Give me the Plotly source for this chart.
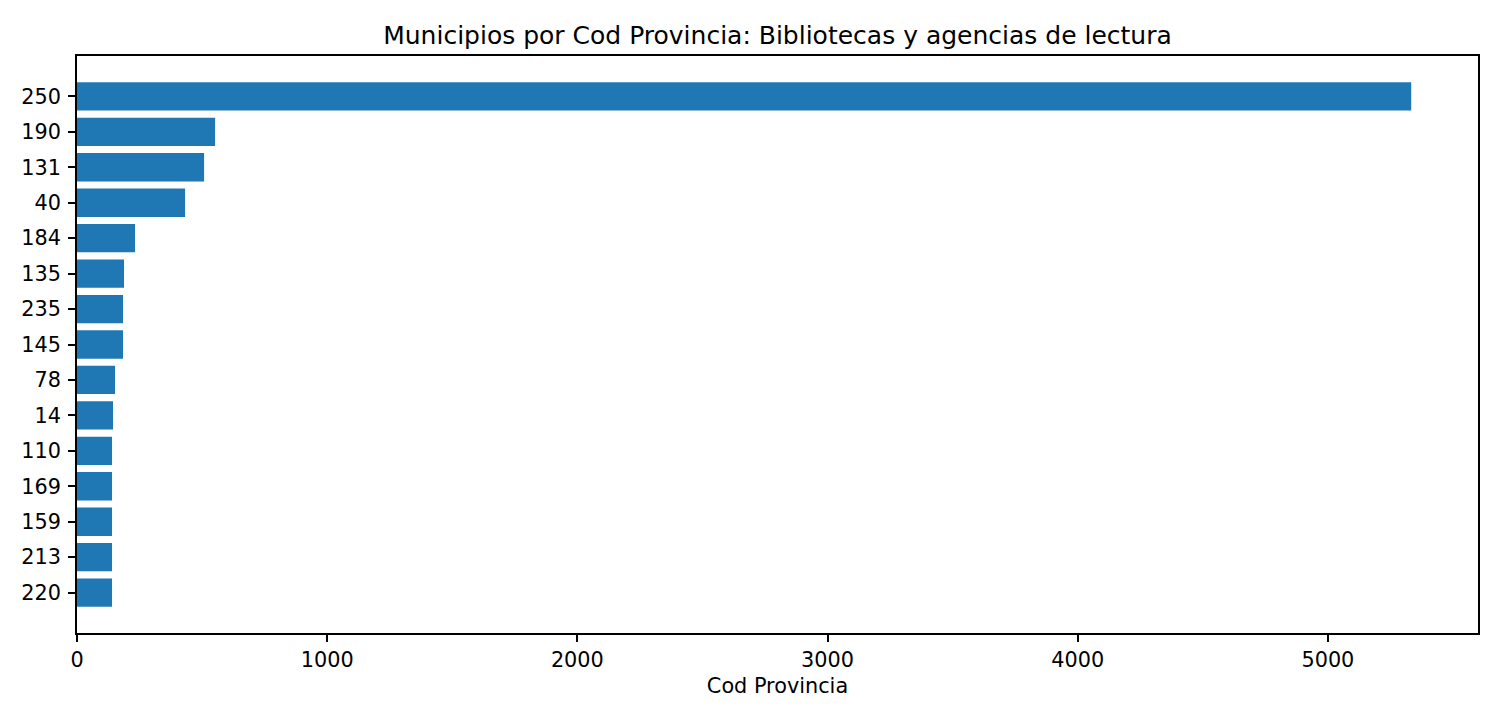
import plotly.graph_objects as go

# provincias (top to bottom) and their counts
cod_provincia = ["250", "190", "131", "40", "184", "135", "235", "145",
                 "78", "14", "110", "169", "159", "213", "220"]
municipios = [5333, 552, 508, 432, 232, 188, 184, 184,
              152, 144, 140, 140, 140, 140, 140]

pos = list(range(len(cod_provincia)))

# page body adds 8px margin, so the figure is made 8px smaller
W, H = 1492, 712

fig = go.Figure(go.Bar(
    x=municipios,
    y=pos,
    orientation="h",
    width=0.8,
    marker=dict(color="#1f77b4", line=dict(width=0)),
))

fig.update_layout(
    width=W,
    height=H,
    margin=dict(l=69, r=22, t=48, b=87),
    paper_bgcolor="white",
    plot_bgcolor="white",
    font=dict(family="DejaVu Sans", size=20.8, color="black"),
    showlegend=False,
    title=dict(
        text="Municipios por Cod Provincia: Bibliotecas y agencias de lectura",
        x=(69 + (W - 22 - 69) / 2) / W, xanchor="center",
        y=1 - 27 / H, yref="container", yanchor="middle",
        font=dict(size=25),
    ),
)

fig.update_xaxes(
    range=[0, 5600],
    tickvals=[0, 1000, 2000, 3000, 4000, 5000],
    showgrid=False, zeroline=False,
    showline=True, linecolor="black", linewidth=1.6, mirror=True,
    ticks="outside", ticklen=7, tickwidth=1.6, tickcolor="black",
    title=dict(text="Cod Provincia", standoff=8, font=dict(size=20.8)),
)

fig.update_yaxes(
    range=[len(pos) - 1 + 1.14, -1.14],
    tickvals=pos, ticktext=cod_provincia,
    showgrid=False, zeroline=False,
    showline=True, linecolor="black", linewidth=1.6, mirror=True,
    ticks="outside", ticklen=7, tickwidth=1.6, tickcolor="black",
    ticklabelstandoff=3,
)

fig.write_html("out.html")
